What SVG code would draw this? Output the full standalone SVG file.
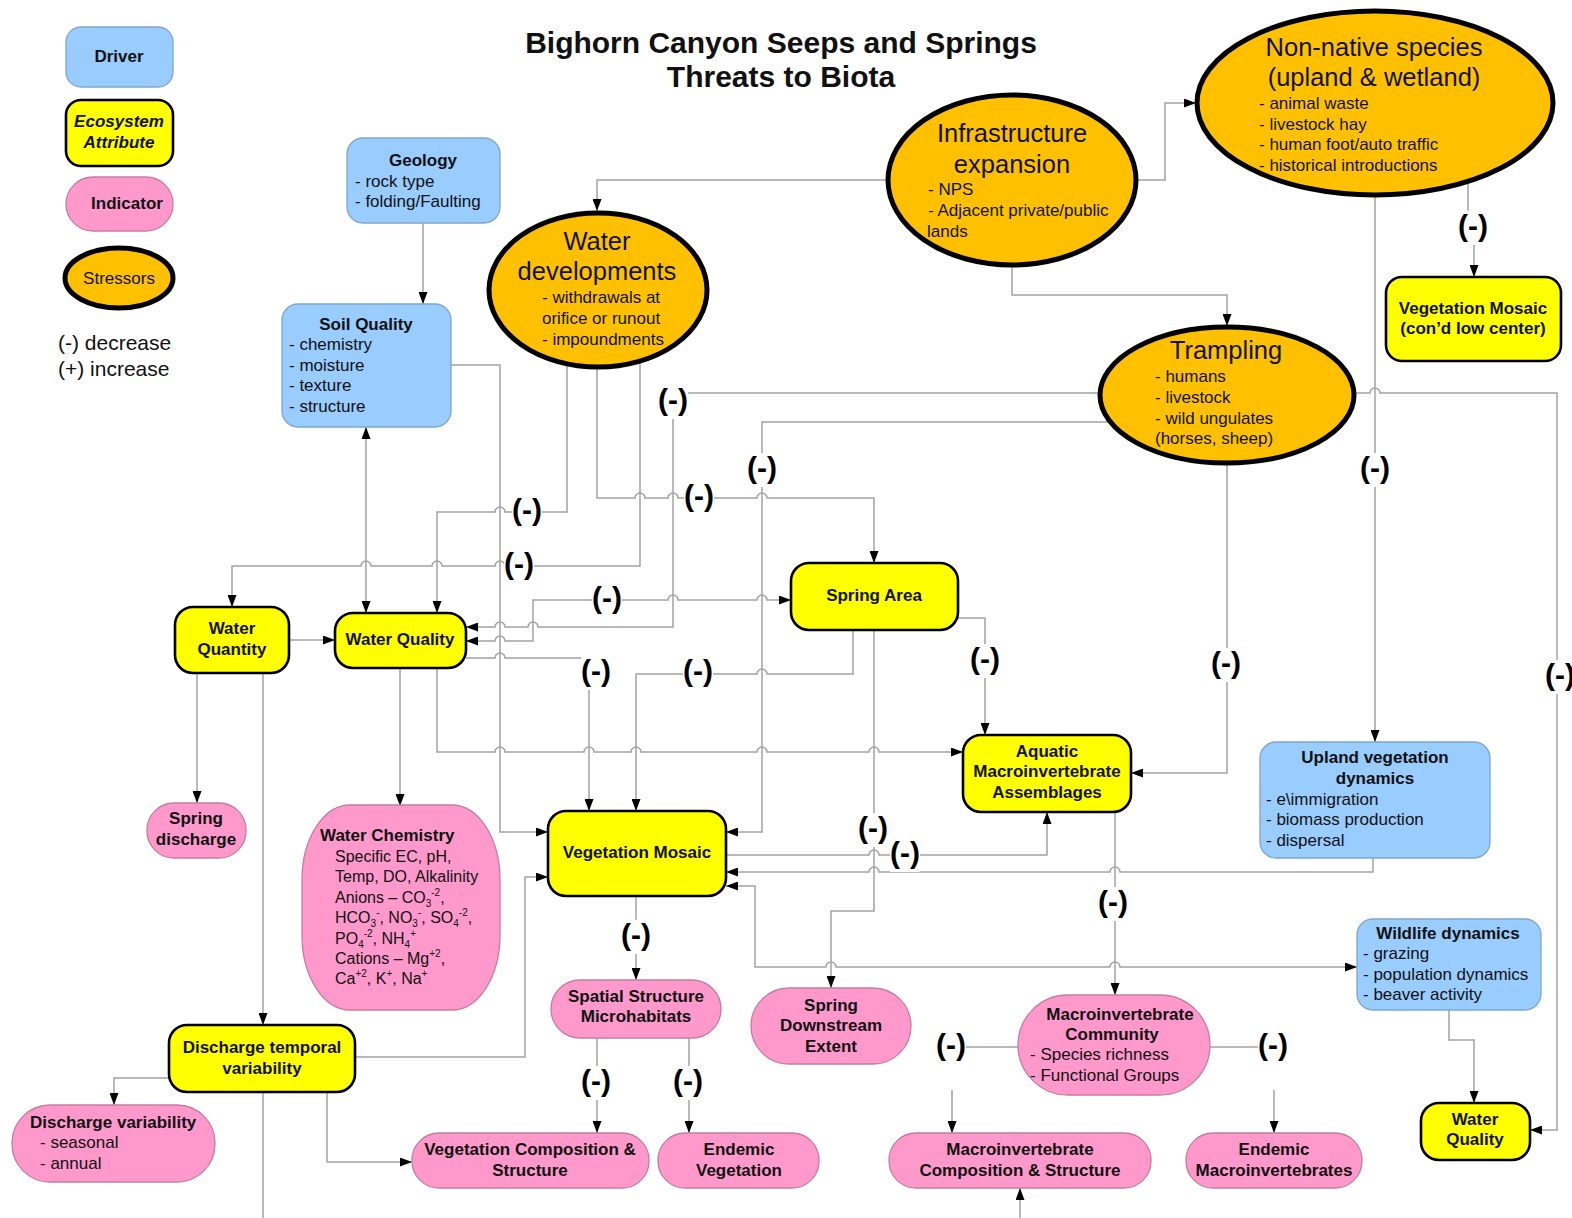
<svg xmlns="http://www.w3.org/2000/svg" width="1572" height="1218" viewBox="0 0 1572 1218">
<defs>
  <marker id="ah" viewBox="0 0 12 9" refX="12" refY="4.5" markerWidth="12" markerHeight="9" markerUnits="userSpaceOnUse" orient="auto-start-reverse">
    <path d="M0,0 L12,4.5 L0,9 z" fill="#000"/>
  </marker>
</defs>
<style>
  text{font-family:"Liberation Sans",Arial,Helvetica,sans-serif;fill:#111}
  .h{font-size:17px;font-weight:bold}
  .r{font-size:17px}
  .wc{font-size:16px}
  .sb{font-size:10px}
  .m{text-anchor:middle}
  .big{font-size:25.5px}
  .title{font-size:30px;font-weight:bold;text-anchor:middle}
  .drv{fill:#99ccff;stroke:#7fa6cc;stroke-width:1.3}
  .eco{fill:#ffff00;stroke:#000;stroke-width:2.6}
  .ind{fill:#ff99cc;stroke:#c47d9f;stroke-width:1.3}
  .str{fill:#ffc000;stroke:#000;stroke-width:5}
  .cn path{fill:none;stroke:#a3a3a3;stroke-width:1.5}
  .a{marker-end:url(#ah)}
  .ab{marker-start:url(#ah);marker-end:url(#ah)}
  .lb rect{fill:#fff}
  .lb text{font-size:30px;font-weight:bold;text-anchor:middle;fill:#000}
</style>
<rect x="0" y="0" width="1572" height="1218" fill="#fff"/>

<!-- legend -->
<g id="legend">
  <rect class="drv" x="66" y="27" width="107" height="60" rx="15"/>
  <text class="h m" x="119" y="62">Driver</text>
  <rect class="eco" x="66" y="100" width="107" height="66" rx="15"/>
  <text class="h m" x="119" y="127" font-style="italic">Ecosystem</text>
  <text class="h m" x="119" y="148" font-style="italic">Attribute</text>
  <rect class="ind" x="66" y="177" width="107" height="54" rx="27"/>
  <text class="h m" x="127" y="209">Indicator</text>
  <ellipse class="str" cx="119" cy="278" rx="54" ry="30"/>
  <text class="r m" x="119" y="284">Stressors</text>
  <text x="58" y="350" font-size="21">(-) decrease</text>
  <text x="58" y="376" font-size="21">(+) increase</text>
</g>

<g id="title">
  <text class="title" x="781" y="53">Bighorn Canyon Seeps and Springs</text>
  <text class="title" x="781" y="87">Threats to Biota</text>
</g>

<!-- connectors -->
<g id="connectors" class="cn">
  <path class="a" d="M423,223 V304"/>
  <path class="ab" d="M366,427 V613"/>
  <path class="a" d="M451,365 H500 V832 H548"/>
  <path class="a" d="M887,180 H597 V211"/>
  <path class="a" d="M1137,180 H1165 V103 H1196"/>
  <path class="a" d="M1012,266 V295 H1227 V326"/>
  <path class="a" d="M1468,182 V228 H1474 V277"/>
  <path class="a" d="M1375,196 V742"/>
  <path class="a" d="M1355,393 H1370 a5,5 0 0 1 10,0 H1557 V1130 H1530"/>
  <path class="a" d="M1099,393 H673 V627 H538 a5,5 0 0 0 -10,0 H505 a5,5 0 0 0 -10,0 H466"/>
  <path class="a" d="M1110,422 H762 V832 H726"/>
  <path class="a" d="M1227,464 V773 H1131"/>
  <path class="a" d="M567,365 V512 H505 a5,5 0 0 0 -10,0 H437 V613"/>
  <path class="a" d="M640,362 V566 H505 a5,5 0 0 0 -10,0 H442 a5,5 0 0 0 -10,0 H371 a5,5 0 0 0 -10,0 H232 V607"/>
  <path class="a" d="M597,368 V498 H635 a5,5 0 0 1 10,0 H668 a5,5 0 0 1 10,0 H757 a5,5 0 0 1 10,0 H874 V563"/>
  <path class="ab" d="M466,641 H495 a5,5 0 0 1 10,0 H533 V600 H668 a5,5 0 0 1 10,0 H757 a5,5 0 0 1 10,0 H791"/>
  <path class="a" d="M466,658 H495 a5,5 0 0 1 10,0 H589 V811"/>
  <path class="a" d="M853,630 V674 H767 a5,5 0 0 0 -10,0 H636 V811"/>
  <path class="a" d="M958,618 H985 V735"/>
  <path class="a" d="M437,668 V752 H495 a5,5 0 0 1 10,0 H584 a5,5 0 0 1 10,0 H631 a5,5 0 0 1 10,0 H757 a5,5 0 0 1 10,0 H869 a5,5 0 0 1 10,0 H963"/>
  <path class="a" d="M874,630 V911 H831 V988"/>
  <path class="a" d="M1373,858 V872 H1120 a5,5 0 0 0 -10,0 H879 a5,5 0 0 0 -10,0 H726"/>
  <path class="a" d="M726,855 H869 a5,5 0 0 1 10,0 H1047 V812"/>
  <path class="a" d="M1115,812 V995"/>
  <path class="ab" d="M726,886 H755 V967 H826 a5,5 0 0 1 10,0 H1110 a5,5 0 0 1 10,0 H1357"/>
  <path class="a" d="M636,896 V980"/>
  <path class="a" d="M597,1038 V1133"/>
  <path class="a" d="M689,1038 V1133"/>
  <path class="a" d="M1018,1047 H966 M952,1090 V1133"/>
  <path class="a" d="M1210,1047 H1258 M1274,1090 V1133"/>
  <path class="a" d="M1020,1218 V1188"/>
  <path class="a" d="M1449,1010 V1040 H1474 V1103"/>
  <path class="a" d="M289,640 H335"/>
  <path class="a" d="M197,673 V803"/>
  <path class="a" d="M263,673 V1025"/>
  <path class="a" d="M400,668 V806"/>
  <path class="a" d="M169,1078 H114 V1105"/>
  <path class="a" d="M327,1092 V1162 H412"/>
  <path class="a" d="M355,1057 H525 V877 H548"/>
  <path d="M263,1092 V1218"/>
</g>

<!-- effect signs on the connectors -->
<g id="signs" class="lb">
  <rect x="1458" y="211" width="30" height="34"/><text x="1473" y="236">(-)</text>
  <rect x="658" y="385" width="30" height="34"/><text x="673" y="410">(-)</text>
  <rect x="1360" y="453" width="30" height="34"/><text x="1375" y="478">(-)</text>
  <rect x="747" y="453" width="30" height="34"/><text x="762" y="478">(-)</text>
  <rect x="512" y="495" width="30" height="34"/><text x="527" y="520">(-)</text>
  <rect x="684" y="481" width="30" height="34"/><text x="699" y="506">(-)</text>
  <rect x="504" y="549" width="30" height="34"/><text x="519" y="574">(-)</text>
  <rect x="592" y="583" width="30" height="34"/><text x="607" y="608">(-)</text>
  <rect x="581" y="656" width="30" height="34"/><text x="596" y="681">(-)</text>
  <rect x="683" y="656" width="30" height="34"/><text x="698" y="681">(-)</text>
  <rect x="970" y="644" width="30" height="34"/><text x="985" y="669">(-)</text>
  <rect x="1211" y="648" width="30" height="34"/><text x="1226" y="673">(-)</text>
  <rect x="1545" y="660" width="30" height="34"/><text x="1560" y="685">(-)</text>
  <rect x="858" y="813" width="30" height="34"/><text x="873" y="838">(-)</text>
  <rect x="890" y="838" width="30" height="34"/><text x="905" y="863">(-)</text>
  <rect x="1098" y="887" width="30" height="34"/><text x="1113" y="912">(-)</text>
  <rect x="621" y="920" width="30" height="34"/><text x="636" y="945">(-)</text>
  <rect x="581" y="1066" width="30" height="34"/><text x="596" y="1091">(-)</text>
  <rect x="673" y="1066" width="30" height="34"/><text x="688" y="1091">(-)</text>
  <rect x="936" y="1030" width="30" height="34"/><text x="951" y="1055">(-)</text>
  <rect x="1258" y="1030" width="30" height="34"/><text x="1273" y="1055">(-)</text>
</g>

<!-- stressors -->
<g id="water-developments">
  <ellipse class="str" cx="598" cy="290" rx="109" ry="77"/>
  <text class="big m" x="597" y="250">Water</text>
  <text class="big m" x="597" y="280">developments</text>
  <text class="r" x="542" y="303">- withdrawals at</text>
  <text class="r" x="542" y="324">orifice or runout</text>
  <text class="r" x="542" y="345">- impoundments</text>
</g>
<g id="infrastructure">
  <ellipse class="str" cx="1012" cy="180" rx="124" ry="85"/>
  <text class="big m" x="1012" y="142">Infrastructure</text>
  <text class="big m" x="1012" y="173">expansion</text>
  <text class="r" x="928" y="195">- NPS</text>
  <text class="r" x="928" y="216">- Adjacent private/public</text>
  <text class="r" x="927" y="237">lands</text>
</g>
<g id="non-native">
  <ellipse class="str" cx="1375" cy="103" rx="178" ry="92"/>
  <text class="big m" x="1374" y="56">Non-native species</text>
  <text class="big m" x="1374" y="86">(upland &amp; wetland)</text>
  <text class="r" x="1259" y="109">- animal waste</text>
  <text class="r" x="1259" y="130">- livestock hay</text>
  <text class="r" x="1259" y="150">- human foot/auto traffic</text>
  <text class="r" x="1259" y="171">- historical introductions</text>
</g>
<g id="trampling">
  <ellipse class="str" cx="1227" cy="395" rx="127" ry="68"/>
  <text class="big m" x="1226" y="359">Trampling</text>
  <text class="r" x="1155" y="382">- humans</text>
  <text class="r" x="1155" y="403">- livestock</text>
  <text class="r" x="1155" y="424">- wild ungulates</text>
  <text class="r" x="1155" y="444">(horses, sheep)</text>
</g>

<!-- drivers -->
<g id="geology">
  <rect class="drv" x="347" y="138" width="153" height="85" rx="16"/>
  <text class="h m" x="423" y="166">Geology</text>
  <text class="r" x="355" y="187">- rock type</text>
  <text class="r" x="355" y="207">- folding/Faulting</text>
</g>
<g id="soil-quality">
  <rect class="drv" x="282" y="304" width="169" height="123" rx="16"/>
  <text class="h m" x="366" y="330">Soil Quality</text>
  <text class="r" x="289" y="350">- chemistry</text>
  <text class="r" x="289" y="371">- moisture</text>
  <text class="r" x="289" y="391">- texture</text>
  <text class="r" x="289" y="412">- structure</text>
</g>
<g id="upland-vegetation">
  <rect class="drv" x="1260" y="742" width="230" height="116" rx="16"/>
  <text class="h m" x="1375" y="763">Upland vegetation</text>
  <text class="h m" x="1375" y="784">dynamics</text>
  <text class="r" x="1266" y="805">- e\immigration</text>
  <text class="r" x="1266" y="825">- biomass production</text>
  <text class="r" x="1266" y="846">- dispersal</text>
</g>
<g id="wildlife">
  <rect class="drv" x="1357" y="919" width="184" height="91" rx="16"/>
  <text class="h m" x="1448" y="939">Wildlife dynamics</text>
  <text class="r" x="1363" y="959">- grazing</text>
  <text class="r" x="1363" y="980">- population dynamics</text>
  <text class="r" x="1363" y="1000">- beaver activity</text>
</g>

<!-- ecosystem attributes -->
<g id="veg-mosaic-low">
  <rect class="eco" x="1386" y="277" width="175" height="84" rx="16"/>
  <text class="h m" x="1473" y="314">Vegetation Mosaic</text>
  <text class="h m" x="1473" y="334">(con’d low center)</text>
</g>
<g id="water-quantity">
  <rect class="eco" x="175" y="607" width="114" height="66" rx="18"/>
  <text class="h m" x="232" y="634">Water</text>
  <text class="h m" x="232" y="655">Quantity</text>
</g>
<g id="water-quality">
  <rect class="eco" x="335" y="613" width="131" height="55" rx="18"/>
  <text class="h m" x="400" y="645">Water Quality</text>
</g>
<g id="spring-area">
  <rect class="eco" x="791" y="563" width="167" height="67" rx="18"/>
  <text class="h m" x="874" y="601">Spring Area</text>
</g>
<g id="aquatic-macro">
  <rect class="eco" x="963" y="735" width="168" height="77" rx="18"/>
  <text class="h m" x="1047" y="757">Aquatic</text>
  <text class="h m" x="1047" y="777">Macroinvertebrate</text>
  <text class="h m" x="1047" y="798">Assemblages</text>
</g>
<g id="veg-mosaic">
  <rect class="eco" x="548" y="811" width="178" height="85" rx="18"/>
  <text class="h m" x="637" y="858">Vegetation Mosaic</text>
</g>
<g id="discharge-temporal">
  <rect class="eco" x="169" y="1025" width="186" height="67" rx="18"/>
  <text class="h m" x="262" y="1053">Discharge temporal</text>
  <text class="h m" x="262" y="1074">variability</text>
</g>
<g id="water-quality-2">
  <rect class="eco" x="1421" y="1103" width="109" height="57" rx="18"/>
  <text class="h m" x="1475" y="1125">Water</text>
  <text class="h m" x="1475" y="1145">Quality</text>
</g>

<!-- indicators -->
<g id="spring-discharge">
  <rect class="ind" x="147" y="803" width="99" height="55" rx="27"/>
  <text class="h m" x="196" y="824">Spring</text>
  <text class="h m" x="196" y="845">discharge</text>
</g>
<g id="water-chemistry">
  <rect class="ind" x="302" y="805" width="198" height="205" rx="48" ry="75"/>
  <text class="h" x="320" y="841">Water Chemistry</text>
  <text class="wc" x="335" y="862">Specific EC, pH,</text>
  <text class="wc" x="335" y="882">Temp, DO, Alkalinity</text>
  <text class="wc" x="335" y="903">Anions – CO<tspan class="sb" dy="4">3</tspan><tspan class="sb" dy="-11">-2</tspan><tspan dy="7">,</tspan></text>
  <text class="wc" x="335" y="923">HCO<tspan class="sb" dy="4">3</tspan><tspan class="sb" dy="-11">-</tspan><tspan dy="7">, NO</tspan><tspan class="sb" dy="4">3</tspan><tspan class="sb" dy="-11">-</tspan><tspan dy="7">, SO</tspan><tspan class="sb" dy="4">4</tspan><tspan class="sb" dy="-11">-2</tspan><tspan dy="7">,</tspan></text>
  <text class="wc" x="335" y="944">PO<tspan class="sb" dy="4">4</tspan><tspan class="sb" dy="-11">-2</tspan><tspan dy="7">, NH</tspan><tspan class="sb" dy="4">4</tspan><tspan class="sb" dy="-11">+</tspan></text>
  <text class="wc" x="335" y="964">Cations – Mg<tspan class="sb" dy="-7">+2</tspan><tspan dy="7">,</tspan></text>
  <text class="wc" x="335" y="984">Ca<tspan class="sb" dy="-7">+2</tspan><tspan dy="7">, K</tspan><tspan class="sb" dy="-7">+</tspan><tspan dy="7">, Na</tspan><tspan class="sb" dy="-7">+</tspan></text>
</g>
<g id="spatial-structure">
  <rect class="ind" x="551" y="980" width="170" height="58" rx="29"/>
  <text class="h m" x="636" y="1002">Spatial Structure</text>
  <text class="h m" x="636" y="1022">Microhabitats</text>
</g>
<g id="spring-downstream">
  <rect class="ind" x="751" y="988" width="160" height="76" rx="38"/>
  <text class="h m" x="831" y="1011">Spring</text>
  <text class="h m" x="831" y="1031">Downstream</text>
  <text class="h m" x="831" y="1052">Extent</text>
</g>
<g id="macro-community">
  <rect class="ind" x="1018" y="995" width="192" height="100" rx="50"/>
  <text class="h m" x="1120" y="1020">Macroinvertebrate</text>
  <text class="h m" x="1112" y="1040">Community</text>
  <text class="r" x="1030" y="1060">- Species richness</text>
  <text class="r" x="1030" y="1081">- Functional Groups</text>
</g>
<g id="discharge-variability">
  <rect class="ind" x="12" y="1105" width="203" height="77" rx="38"/>
  <text class="h" x="30" y="1128">Discharge variability</text>
  <text class="r" x="40" y="1148">- seasonal</text>
  <text class="r" x="40" y="1169">- annual</text>
</g>
<g id="veg-composition">
  <rect class="ind" x="412" y="1133" width="237" height="55" rx="27"/>
  <text class="h m" x="530" y="1155">Vegetation Composition &amp;</text>
  <text class="h m" x="530" y="1176">Structure</text>
</g>
<g id="endemic-vegetation">
  <rect class="ind" x="658" y="1133" width="161" height="55" rx="27"/>
  <text class="h m" x="739" y="1155">Endemic</text>
  <text class="h m" x="739" y="1176">Vegetation</text>
</g>
<g id="macro-composition">
  <rect class="ind" x="889" y="1133" width="262" height="55" rx="27"/>
  <text class="h m" x="1020" y="1155">Macroinvertebrate</text>
  <text class="h m" x="1020" y="1176">Composition &amp; Structure</text>
</g>
<g id="endemic-macro">
  <rect class="ind" x="1186" y="1133" width="176" height="55" rx="27"/>
  <text class="h m" x="1274" y="1155">Endemic</text>
  <text class="h m" x="1274" y="1176">Macroinvertebrates</text>
</g>
</svg>
